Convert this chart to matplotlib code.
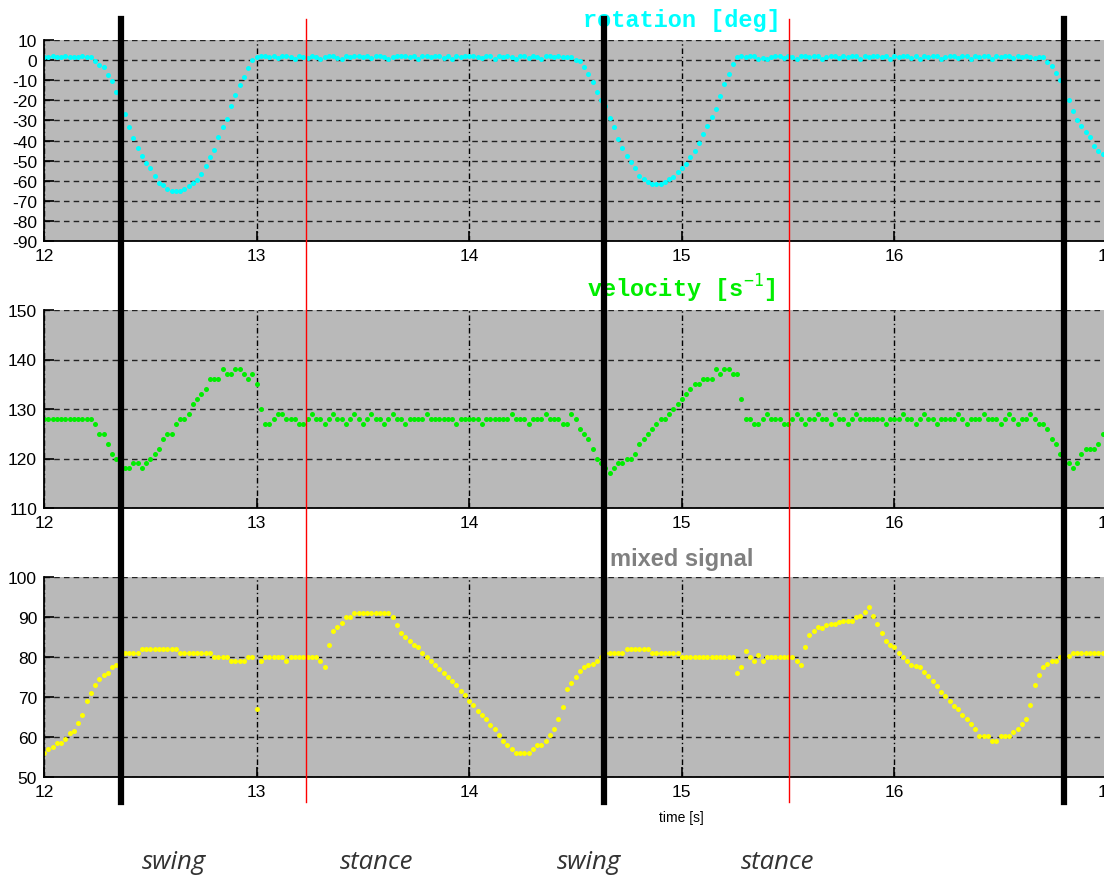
import numpy as np
import matplotlib
matplotlib.use("Agg")
import matplotlib.pyplot as plt
from matplotlib import transforms
from matplotlib.lines import Line2D

# sampling of the recorded signals
t_start = 12.0
dt = 0.02

# rotation [deg], one row = 0.2 s
rotation = [
    1.5, 1.5, 2, 1.5, 1.5, 2, 1.5, 1.5, 1.5, 2,
    1.5, 1.5, -0.3, -2.5, -3.5, -7.5, -10.5, -16, -22, -27,
    -33.5, -39, -43.5, -47.5, -51, -53.5, -57.5, -61, -62, -64,
    -65, -65, -65, -64, -62.5, -61, -59.5, -56.5, -52.5, -48,
    -44.5, -38.5, -33.5, -29.5, -23, -17.5, -12.5, -8.5, -4, 0,
    1.5, 2, 2, 1.5, 2, 1, 2, 2, 1.5, 0.5,
    2, 1.5, 1, 2, 1.5, 0.5, 1.5, 2, 2, 1,
    0.5, 2, 1.5, 2, 2, 1.5, 2, 1, 2, 2,
    1.5, 0.5, 1.5, 2, 2, 2, 1.5, 2, 0.5, 2,
    2, 1.5, 2, 2, 1, 2, 0.5, 2, 1.5, 2,
    2, 2, 1.5, 1, 2, 2, 0.5, 2, 1.5, 2,
    1.5, 0.5, 2, 2, 1, 2, 1.5, 0.5, 2, 2,
    1.5, 2, 1.5, 1.5, 1.5, 0, -0.5, -3.5, -7, -11,
    -16, -20, -23, -29, -33.5, -39.5, -43.5, -47.5, -50.5, -53.5,
    -57.5, -59, -60.5, -61.5, -61.5, -61.5, -60.5, -59, -58, -55.5,
    -53.5, -51.5, -48, -45, -41, -37, -33, -28.5, -24.5, -18,
    -12, -7, -2, 1.5, 2, 1.5, 2, 2, 0.5, 1,
    0.5, 1.5, 2, 2, 1, 2, 1.5, 0.5, 2, 2,
    1.5, 2, 2, 0.5, 1.5, 2, 2, 1, 2, 1.5,
    2, 2, 0.5, 2, 1.5, 2, 2, 1.5, 2, 0.5,
    2, 1.5, 2, 2, 1, 2, 0.5, 2, 1.5, 2,
    2, 0.5, 1.5, 2, 2, 1, 2, 2, 0.5, 2,
    1.5, 2, 2, 0.5, 2, 1.5, 2, 2, 1, 2,
    1.5, 2, 1.5, 1, 1.5, 1.5, -1, -3, -6.5, -10,
    -15, -20, -25.5, -30, -33, -36, -38.5, -42.5, -45, -46.5,
]

# velocity [1/s]
velocity = [
    128, 128, 128, 128, 128, 128, 128, 128, 128, 128,
    128, 128, 127, 125, 125, 123, 121, 120, 118, 118,
    118, 119, 119, 118, 119, 120, 121, 122, 124, 125,
    125, 127, 128, 128, 129, 131, 132, 133, 134, 136,
    136, 136, 138, 137, 137, 138, 138, 137, 136, 137,
    135, 130, 127, 127, 128, 129, 129, 128, 128, 128,
    127, 127, 128, 129, 128, 128, 127, 128, 129, 128,
    128, 127, 128, 129, 128, 127, 128, 129, 128, 128,
    127, 128, 129, 128, 128, 127, 128, 128, 128, 128,
    129, 128, 128, 128, 128, 128, 128, 127, 128, 128,
    128, 128, 128, 127, 128, 128, 128, 128, 128, 128,
    129, 128, 128, 128, 127, 128, 128, 128, 129, 128,
    128, 128, 127, 127, 129, 128, 126, 125, 124, 122,
    120, 119, 118, 117, 118, 119, 119, 120, 120, 121,
    123, 124, 125, 126, 127, 128, 128, 129, 130, 131,
    132, 133, 134, 135, 135, 136, 136, 136, 138, 137,
    138, 138, 137, 137, 132, 128, 128, 127, 127, 128,
    129, 128, 128, 128, 127, 127, 128, 129, 128, 127,
    128, 128, 129, 128, 128, 127, 129, 128, 128, 127,
    128, 129, 128, 128, 128, 128, 128, 128, 127, 128,
    128, 128, 129, 128, 128, 127, 128, 129, 128, 128,
    127, 128, 128, 128, 128, 129, 128, 127, 128, 128,
    128, 129, 128, 128, 128, 127, 128, 129, 128, 127,
    128, 128, 129, 128, 127, 127, 126, 124, 123, 121,
    120, 119, 118, 119, 121, 122, 122, 122, 123, 125,
]

# mixed signal
mixed = [
    56, 57, 57.5, 58.5, 58.5, 59.5, 61, 61.5, 63.5, 65.5,
    69, 71, 73, 74.5, 75.5, 76, 77.5, 78, 79, 81,
    81, 81, 81, 82, 82, 82, 82, 82, 82, 82,
    82, 82, 81, 81, 81, 81, 81, 81, 81, 81,
    80, 80, 80, 80, 79, 79, 79, 79, 80, 80,
    67, 79, 80, 80, 80, 80, 80, 79, 80, 80,
    80, 80, 80, 80, 80, 79, 77.5, 83, 86.5, 87.5,
    88.5, 90, 90, 91, 91, 91, 91, 91, 91, 91,
    91, 91, 90, 88, 86, 85, 84, 83, 82.5, 81,
    80, 79, 78, 77, 76, 75, 74, 73, 71.5, 70.5,
    69, 68, 66.5, 65.5, 64.5, 63, 62, 60.5, 59, 58,
    57, 56, 56, 56, 56, 57, 58, 58, 59, 60.5,
    62, 64.5, 67.5, 72, 73.5, 75, 76.5, 77.5, 78, 78.2,
    79, 80, 81, 81, 81, 81, 81, 82, 82, 82,
    82, 82, 82, 81, 81, 81, 81, 81, 81, 81,
    80, 80, 80, 80, 80, 80, 80, 80, 80, 80,
    80, 80, 80, 76, 77.5, 81.5, 80, 79, 80.5, 79,
    80, 80, 80, 80, 80, 80, 80, 79, 78, 82.5,
    85.5, 86.5, 87.5, 87.2, 88, 88.2, 88.2, 88.8, 89, 89,
    89, 90, 90.2, 91.3, 92.4, 90.2, 88.2, 86, 84, 83,
    82.4, 81, 80, 79, 78, 77.8, 77.4, 76.2, 75.3, 74,
    72.8, 71.3, 70.3, 69, 67.8, 67, 65.5, 64.5, 63.2, 62,
    60.3, 60.3, 60.3, 59, 59, 60.3, 60.3, 60.3, 61.3, 62,
    63.2, 64.5, 68, 73, 75.5, 77.5, 78.2, 79, 79, 80,
    80.3, 80.3, 81, 81, 81, 81, 81, 81, 81, 81,
]

# gait events [s]
swing_start = [12.362, 14.633, 16.796]
stance_start = [13.232, 15.503]
phase_labels = ["swing", "stance", "swing", "stance"]
phase_label_x = [12.611, 13.566, 14.562, 15.451]

x_ticks = [12, 13, 14, 15, 16, 17]
rot_ticks = [10, 0, -10, -20, -30, -40, -50, -60, -70, -80, -90]
vel_ticks = [110, 120, 130, 140, 150]
mix_ticks = [50, 60, 70, 80, 90, 100]

W, H = 1104, 878
BG = "#b9b9b9"


def box(left, top, right, bottom):
    return [left / W, 1 - bottom / H, (right - left) / W, (bottom - top) / H]


def style_axis(ax, yticks):
    ax.set_facecolor(BG)
    ax.set_xlim(12, 17)
    ax.set_ylim(min(yticks), max(yticks))
    ax.set_xticks(x_ticks)
    ax.set_yticks(yticks)
    ax.spines["top"].set_visible(False)
    ax.spines["right"].set_visible(False)
    for s in ("left", "bottom"):
        ax.spines[s].set_linewidth(1.3)
    ax.tick_params(direction="in", length=7, width=1.2, labelsize=12.5, pad=5)
    ax.xaxis.grid(True, color="black", linewidth=1.0, linestyle=(0, (4, 2, 1, 2)))
    ax.yaxis.grid(True, color="#222222", linewidth=1.0, linestyle=(0, (4, 3)))
    ax.set_axisbelow(True)
    for lab in ax.get_xticklabels() + ax.get_yticklabels():
        lab.set_fontfamily("Liberation Sans")


def main():
    plt.rcParams["font.family"] = ["Liberation Sans", "DejaVu Sans"]
    plt.rcParams["axes.unicode_minus"] = False
    fig = plt.figure(figsize=(W / 100, H / 100), dpi=100)
    ax1 = fig.add_axes(box(44, 41, 1107, 242))
    ax2 = fig.add_axes(box(44, 311, 1107, 509))
    ax3 = fig.add_axes(box(44, 578, 1107, 778))

    t = t_start + dt * np.arange(len(rotation))

    style_axis(ax1, rot_ticks)
    style_axis(ax2, vel_ticks)
    style_axis(ax3, mix_ticks)

    ax1.plot(t, rotation, "o", color="#00ffff", markersize=3.6, markeredgewidth=0)
    ax2.plot(t, velocity, "o", color="#00ee00", markersize=3.6, markeredgewidth=0)
    ax3.plot(t, mixed, "o", color="#ffff00", markersize=3.6, markeredgewidth=0)

    ax1.annotate("rotation [deg]", xy=(15.0, 1), xycoords=("data", "axes fraction"),
                 xytext=(0, 15), textcoords="offset points", ha="center", va="center",
                 color="#00ffff", fontsize=17, fontweight="bold", family="Liberation Mono")
    ax2.annotate(r"velocity [s$^{\mathtt{-1}}$]", xy=(15.0, 1), xycoords=("data", "axes fraction"),
                 xytext=(0, 16), textcoords="offset points", ha="center", va="center",
                 color="#00ee00", fontsize=17, fontweight="bold", family="Liberation Mono")
    ax3.annotate("mixed signal", xy=(15.0, 1), xycoords=("data", "axes fraction"),
                 xytext=(0, 13), textcoords="offset points", ha="center", va="center",
                 color="#808080", fontsize=17, fontweight="bold")
    ax3.annotate("time [s]", xy=(15.0, 0), xycoords=("data", "axes fraction"),
                 xytext=(0, -29), textcoords="offset points", ha="center", va="center",
                 fontsize=10)

    # gait event markers across all three panels
    trans = transforms.blended_transform_factory(ax3.transData, fig.transFigure)
    y_top, y_bot = 1 - 20 / H, 1 - 803 / H
    for x in swing_start:
        fig.add_artist(Line2D([x, x], [y_bot, y_top], transform=trans,
                              color="black", linewidth=4.5))
    for x in stance_start:
        fig.add_artist(Line2D([x, x], [y_bot, y_top], transform=trans,
                              color="red", linewidth=1.0))

    for x, lab in zip(phase_label_x, phase_labels):
        fig.text(x, 1 - 863 / H, lab, transform=trans, ha="center", va="center",
                 fontsize=18.5, style="italic", family="Open Sans", color="#333333")

    fig.savefig("out.png", dpi=100)


if __name__ == "__main__":
    main()
